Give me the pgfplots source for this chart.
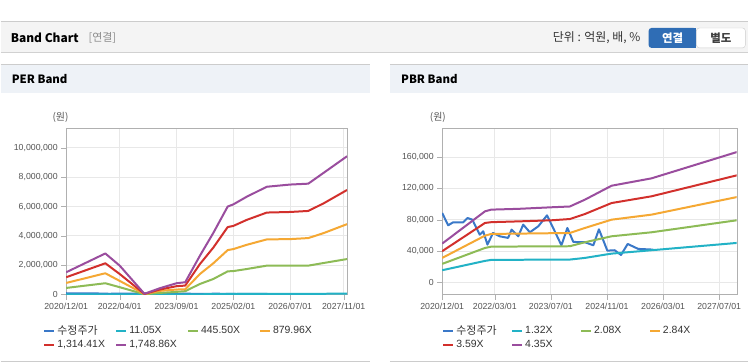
\documentclass[border=0pt]{standalone}
\usepackage{pgfplots}
\pgfplotsset{compat=1.18}
\usepackage{fontspec}
\setmainfont{Liberation Sans}
\newfontfamily\kr{Noto Sans CJK KR}
\definecolor{cprice}{HTML}{3A78C8}
\definecolor{ccyan}{HTML}{22B2C6}
\definecolor{cgreen}{HTML}{8DBB56}
\definecolor{corange}{HTML}{F5A833}
\definecolor{cred}{HTML}{D2302C}
\definecolor{cpurple}{HTML}{9A4D9E}
\definecolor{hdrbg}{HTML}{F4F4F4}
\definecolor{panelbg}{HTML}{EEF2F7}
\definecolor{linegray}{HTML}{CCCCCC}
\definecolor{axisgray}{HTML}{B0B0B0}
\definecolor{gridgray}{HTML}{E8E8E8}
\definecolor{ticktext}{HTML}{555555}
\definecolor{btnblue}{HTML}{2F6DB5}
\pgfplotsset{
 bandaxis/.style={
  scale only axis, anchor=south west,
  xmin=0, xmax=84,
  axis line style={draw=axisgray},
  grid=major, grid style={draw=gridgray, line width=0.8bp},
  tick align=outside, xtick pos=bottom, ytick pos=left,
  major tick length=5bp, tick style={draw=axisgray},
  ticklabel style={font=\fontsize{8.8}{10}\selectfont, text=ticktext},
  /pgf/number format/assume math mode=true,
  scaled y ticks=false,
  yticklabel style={/pgf/number format/fixed, /pgf/number format/1000 sep={,}},
  every axis plot/.append style={line width=2bp, line join=round, no markers},
  legend columns=4,
  legend cell align=left,
  legend image code/.code={\draw[##1, line width=2bp] (0bp,0bp) -- (10bp,0bp);},
  legend style={draw=none, fill=none, inner sep=0pt, anchor=north west,
    font=\fontsize{10.5}{12}\selectfont, text=black!80, row sep=0.5bp,
    /tikz/every even column/.append style={text width=#1}},
 },
}
\begin{document}
\begin{tikzpicture}[x=1bp,y=1bp]
\fill[white] (0,0) rectangle (749,364);
% top header
\fill[hdrbg] (0,312) rectangle (749,342);
\draw[linegray, line width=1bp] (0,342) -- (749,342);
\draw[black!18, line width=1.2bp] (0,311.5) -- (749,311.5);
\node[anchor=west, inner sep=0] at (10,326) {\kr\bfseries\fontsize{12}{14}\selectfont Band Chart};
\node[anchor=west, inner sep=0, text=black!45] at (88,326) {\kr\fontsize{11}{13}\selectfont [연결]};
\node[anchor=east, inner sep=0, text=black!80] at (641,326) {\kr\fontsize{12}{14}\selectfont 단위 : 억원, 배, \%};
\fill[btnblue, rounded corners=3bp] (649,316) rectangle (697,336);
\draw[linegray, fill=white, rounded corners=3bp] (697,316) rectangle (746,336);
\fill[btnblue] (690,316) rectangle (697,336);
\node[text=white, inner sep=0] at (673,326) {\kr\bfseries\fontsize{11.5}{13}\selectfont 연결};
\node[text=black!75, inner sep=0] at (721.5,326) {\kr\bfseries\fontsize{11.5}{13}\selectfont 별도};
% panel headers
\fill[panelbg] (0,271) rectangle (370,300);
\draw[linegray] (0,300) -- (370,300);
\fill[panelbg] (390,271) rectangle (749,300);
\draw[linegray] (390,300) -- (749,300);
\node[anchor=west, inner sep=0] at (11,284.5) {\kr\bfseries\fontsize{11.5}{13}\selectfont PER Band};
\node[anchor=west, inner sep=0] at (401,284.5) {\kr\bfseries\fontsize{11.5}{13}\selectfont PBR Band};
\draw[linegray, line width=1bp] (0,2) -- (370,2);
\draw[linegray, line width=1bp] (390,2) -- (749,2);
\node[text=ticktext, inner sep=0] at (60,246) {\kr\fontsize{10}{12}\selectfont (원)};
\node[text=ticktext, inner sep=0] at (438,246) {\kr\fontsize{10}{12}\selectfont (원)};

\begin{axis}[bandaxis=56bp, at={(65.7bp,69bp)}, width=281.3bp, height=166.7bp,
  ymin=0, ymax=11350000,
  xtick={0,16,33,50,67,83},
  xticklabels={2020/12/01,2022/04/01,2023/09/01,2025/02/01,2026/07/01,2027/11/01},
  ytick={0,2000000,4000000,6000000,8000000,10000000},
  legend style={at={(-0.0818,-0.174)}},
]
\addplot[cprice] coordinates {(0,88700) (1.7,73000) (3.1,76800) (6,76800) (7.2,82300) (8.6,80200) (10.7,61000) (11.7,65400) (12.9,48400) (14.5,63200) (16.4,59000) (18.8,56900) (19.8,67500) (21.7,59000) (23.1,73900) (25,64100) (27.4,71700) (29.9,85700) (32.1,65400) (34,47500) (35.7,69600) (37.4,51800) (40.7,51400) (43.1,47500) (44.7,67900) (47.1,40700) (49.2,41200) (51,35200) (52.9,49200) (55.9,42900) (60.2,42000)};
\addlegendentry{{\kr\fontsize{11}{12}\selectfont 수정주가}}
\addplot[ccyan] coordinates {(0,9600) (11.7,17700) (16,12400) (23.4,300) (28,2700) (33,4900) (35.6,5300) (40,16700) (44,26500) (48.3,37900) (50,38900) (54,42200) (60,46500) (67,47400) (72.4,47800) (77,52500) (84,59600)};
\addlegendentry{11.05X}
\addplot[cgreen] coordinates {(0,450000) (11.7,770000) (16,500000) (23.4,20000) (28,110000) (33,180000) (35.6,230000) (40,720000) (44,1060000) (48.3,1580000) (50,1600000) (54,1740000) (60,1970000) (67,1970000) (72.4,1970000) (77,2150000) (84,2420000)};
\addlegendentry{445.50X}
\addplot[corange] coordinates {(0,790000) (11.7,1450000) (16,930000) (23.4,30000) (28,250000) (33,340000) (35.6,360000) (40,1400000) (44,2130000) (48.3,3030000) (50,3100000) (54,3390000) (60,3760000) (67,3780000) (72.4,3850000) (77,4190000) (84,4800000)};
\addlegendentry{879.96X}
\addplot[cred] coordinates {(0,1180000) (11.7,2130000) (16,1400000) (23.4,40000) (28,340000) (33,570000) (35.6,610000) (40,2080000) (44,3200000) (48.3,4600000) (50,4680000) (54,5090000) (60,5590000) (67,5630000) (72.4,5700000) (77,6220000) (84,7130000)};
\addlegendentry{1,314.41X}
\addplot[cpurple] coordinates {(0,1520000) (11.7,2800000) (16,1970000) (23.4,50000) (28,430000) (33,770000) (35.6,840000) (40,2650000) (44,4200000) (48.3,6000000) (50,6150000) (54,6670000) (60,7350000) (67,7500000) (72.4,7560000) (77,8300000) (84,9430000)};
\addlegendentry{1,748.86X}
\end{axis}

\begin{axis}[bandaxis=53bp, at={(442.3bp,69bp)}, width=295bp, height=166.7bp,
  ymin=-15300, ymax=197000,
  xtick={0,15,31,47,63,79},
  xticklabels={2020/12/01,2022/03/01,2023/07/01,2024/11/01,2026/03/01,2027/07/01},
  ytick={0,40000,80000,120000,160000},
  legend style={at={(0,-0.174)}},
]
\addplot[cprice] coordinates {(0,88700) (1.7,73000) (3.1,76800) (6,76800) (7.2,82300) (8.6,80200) (10.7,61000) (11.7,65400) (12.9,48400) (14.5,63200) (16.4,59000) (18.8,56900) (19.8,67500) (21.7,59000) (23.1,73900) (25,64100) (27.4,71700) (29.9,85700) (32.1,65400) (34,47500) (35.7,69600) (37.4,51800) (40.7,51400) (43.1,47500) (44.7,67900) (47.1,40700) (49.2,41200) (51,35200) (52.9,49200) (55.9,42900) (60.2,42000)};
\addlegendentry{{\kr\fontsize{11}{12}\selectfont 수정주가}}
\addplot[ccyan] coordinates {(0,15700) (12.2,27600) (14,28900) (36.4,29300) (40.7,31400) (48.3,36900) (59.7,41200) (84,50500)};
\addlegendentry{1.32X}
\addplot[cgreen] coordinates {(0,23800) (12.2,44100) (14,45800) (36.4,46300) (40.7,51400) (48.3,59000) (59.7,64100) (84,79400)};
\addlegendentry{2.08X}
\addplot[corange] coordinates {(0,31400) (12.2,59800) (14,62000) (36.4,63200) (40.7,69600) (48.3,80200) (59.7,86600) (84,109000)};
\addlegendentry{2.84X}
\addplot[cred] coordinates {(0,40000) (12.2,76000) (14,77000) (21.7,78000) (31.2,79400) (36.4,81000) (40.7,87400) (48.3,101400) (59.7,110000) (84,136700)};
\addlegendentry{3.59X}
\addplot[cpurple] coordinates {(0,49700) (12.2,90800) (14,93000) (21.7,94000) (31.2,96000) (36.4,97000) (40.7,105700) (48.3,123500) (59.7,132900) (84,166400)};
\addlegendentry{4.35X}
\end{axis}
\end{tikzpicture}
\end{document}
